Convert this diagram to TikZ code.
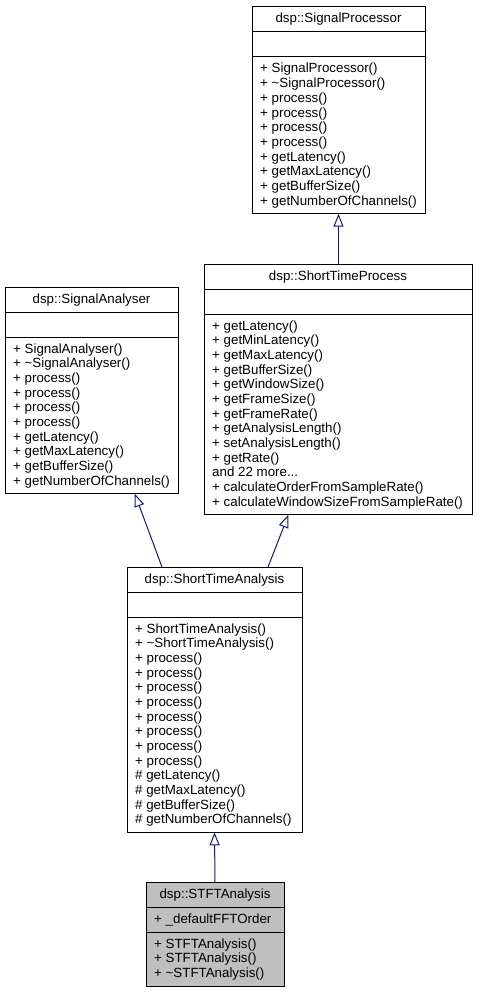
\documentclass[tikz,border=0pt]{standalone}
\usepackage{fontspec}
\setmainfont{Liberation Sans}
\usetikzlibrary{calc,arrows.meta}
\definecolor{edgeblue}{HTML}{191970}
\definecolor{leafgray}{HTML}{BFBFBF}
\newcommand{\threedots}{...}
\tikzset{
  classbox/.style={draw=black, line width=1pt, inner sep=0pt, outer sep=0pt, anchor=north west, rectangle},
  sepline/.style={draw=black, line width=1pt},
  titletext/.style={inner sep=0pt, anchor=base, font=\fontsize{13.33pt}{14.67pt}\selectfont},
  membertext/.style={inner sep=0pt, anchor=base west, font=\fontsize{13.33pt}{14.67pt}\selectfont},
  inherit/.style={draw=edgeblue, line width=1pt, -{Triangle[open, length=13pt, width=10pt]}}
}
% #1 extra style, #2 name, #3 left, #4 top, #5 width, #6 member lines, #7 title
\newcommand{\umlbox}[7][]{%
  \node[classbox,#1, minimum width=#5pt, minimum height={60+#6*14.67}] (#2) at (#3,#4) {};
  \draw[sepline] ($(#2.north west)+(0,25)$) -- ($(#2.north east)+(0,25)$);
  \draw[sepline] ($(#2.north west)+(0,50)$) -- ($(#2.north east)+(0,50)$);
  \node[titletext] (#2-title) at ($(#2.north)+(0,16)$) {#7};
}
% #1 name, #2 list of members
\newcommand{\umlmembers}[2]{%
  \foreach \txt [count=\i from 0] in {#2}{
    \node[membertext] (#1-m\i) at ($(#1.north west)+(8,{66+\i*14.67})$) {\txt};
  }
}
\begin{document}
\begin{tikzpicture}[x=1pt,y=-1pt]
\fill[white] (0,0) rectangle (479,995);
\useasboundingbox (0,0) rectangle (479,995);

\umlbox{sp}{252}{7}{173}{10}{dsp::SignalProcessor}
\umlmembers{sp}{+ SignalProcessor(), + \textasciitilde SignalProcessor(), + process(), + process(), + process(), + process(), + getLatency(), + getMaxLatency(), + getBufferSize(), + getNumberOfChannels()}

\umlbox{stp}{204}{264}{268}{13}{dsp::ShortTimeProcess}
\umlmembers{stp}{+ getLatency(), + getMinLatency(), + getMaxLatency(), + getBufferSize(), + getWindowSize(), + getFrameSize(), + getFrameRate(), + getAnalysisLength(), + setAnalysisLength(), + getRate(), and 22 more\threedots, + calculateOrderFromSampleRate(), + calculateWindowSizeFromSampleRate()}

\umlbox{sa}{5}{287}{173}{10}{dsp::SignalAnalyser}
\umlmembers{sa}{+ SignalAnalyser(), + \textasciitilde SignalAnalyser(), + process(), + process(), + process(), + process(), + getLatency(), + getMaxLatency(), + getBufferSize(), + getNumberOfChannels()}

\umlbox{sta}{127}{567}{175}{14}{dsp::ShortTimeAnalysis}
\umlmembers{sta}{+ ShortTimeAnalysis(), + \textasciitilde ShortTimeAnalysis(), + process(), + process(), + process(), + process(), + process(), + process(), + process(), + process(), \# getLatency(), \# getMaxLatency(), \# getBufferSize(), \# getNumberOfChannels()}

\umlbox[fill=leafgray]{stft}{146}{882}{138}{3}{dsp::STFTAnalysis}
\node[membertext] (stft-a0) at ($(stft.north west)+(8,41)$) {+ \_defaultFFTOrder};
\umlmembers{stft}{+ STFTAnalysis(), + STFTAnalysis(), + \textasciitilde STFTAnalysis()}

\draw[inherit] (sp.south |- stp.north) -- (sp.south);
\draw[inherit] ($(sta.north west)!0.2!(sta.north east)$) -- ($(sa.south west)!0.75!(sa.south east)$);
\draw[inherit] ($(sta.north west)!0.806!(sta.north east)$) -- ($(stp.south west)!0.315!(stp.south east)$);
\draw[inherit] (stft.north) -- (sta.south);
\end{tikzpicture}
\end{document}
